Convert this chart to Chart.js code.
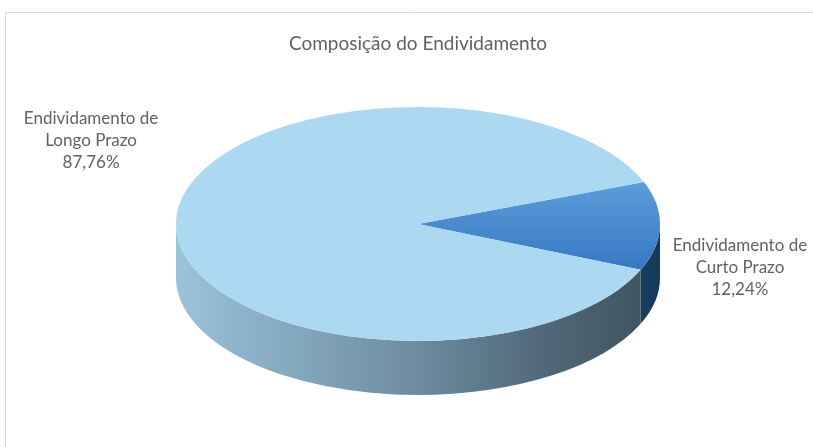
<!DOCTYPE html>
<html>
<head>
<meta charset="utf-8">
<script src="https://cdn.jsdelivr.net/npm/chart.js@4/dist/chart.umd.min.js"></script>
<style>
  html, body { margin: 0; padding: 0; background: #ffffff; }
  canvas { display: block; }
</style>
</head>
<body>
<canvas id="c" width="813" height="447"></canvas>
<script>
// ---- data ----
const categories = ['Endividamento de Curto Prazo', 'Endividamento de Longo Prazo'];
const labelLines = [['Endividamento de', 'Curto Prazo'], ['Endividamento de', 'Longo Prazo']];
const values = [12.24, 87.76];
const percentLabels = ['12,24%', '87,76%'];
const chartTitle = 'Composição do Endividamento';

// ---- styling ----
const TEXT_COLOR = '#626262';
const FONT = 'Lato, "Open Sans", sans-serif';
const PIE_RADIUS = 117;        // vertical radius of the ellipse
const X_STRETCH = 242 / 117;   // ellipse horizontal / vertical radius
const DEPTH = 54;              // height of the 3D side
const labelOffsets = [[80, 41], [-85, -81]];

function stretch(ctx, cx, cy) {
  ctx.translate(cx, cy);
  ctx.scale(X_STRETCH, 1);
  ctx.translate(-cx, -cy);
}

const pie3d = {
  id: 'pie3d',
  beforeDraw(chart) {
    const ctx = chart.ctx;
    ctx.save();
    ctx.fillStyle = '#ffffff';
    ctx.fillRect(0, 0, chart.width, chart.height);
    ctx.strokeStyle = '#dcdcdc';
    ctx.lineWidth = 1;
    ctx.beginPath();
    ctx.moveTo(5.5, chart.height);
    ctx.lineTo(5.5, 12.5);
    ctx.lineTo(chart.width, 12.5);
    ctx.stroke();
    ctx.restore();
  },
  beforeDatasetsDraw(chart) {
    const ctx = chart.ctx;
    const meta = chart.getDatasetMeta(0);
    const e0 = meta.data[0];
    const cx = e0.x, cy = e0.y, r = e0.outerRadius;
    ctx.save();
    stretch(ctx, cx, cy);
    meta.data.forEach((el, i) => {
      for (const k of [-2 * Math.PI, 0, 2 * Math.PI]) {
        const a0 = Math.max(el.startAngle + k, 0);
        const a1 = Math.min(el.endAngle + k, Math.PI);
        if (a1 <= a0) continue;
        const g = ctx.createLinearGradient(cx - r, 0, cx + r, 0);
        if (i === 0) {
          g.addColorStop(0, '#2a5a88');
          g.addColorStop(0.8, '#1f4a72');
          g.addColorStop(1, '#163a5a');
        } else {
          g.addColorStop(0, '#9cc3db');
          g.addColorStop(0.12, '#8fb5cc');
          g.addColorStop(0.5, '#6d8ca0');
          g.addColorStop(0.75, '#51697a');
          g.addColorStop(1, '#3e525e');
        }
        ctx.beginPath();
        ctx.arc(cx, cy, r, a0, a1);
        ctx.arc(cx, cy + DEPTH, r, a1, a0, true);
        ctx.closePath();
        ctx.fillStyle = g;
        ctx.fill();
      }
    });
    // keep the stretch active while the library draws the slices
  },
  afterDatasetsDraw(chart) {
    chart.ctx.restore();
  },
  afterDraw(chart) {
    const ctx = chart.ctx;
    const meta = chart.getDatasetMeta(0);
    ctx.save();
    ctx.fillStyle = TEXT_COLOR;
    ctx.font = '17px ' + FONT;
    ctx.textAlign = 'center';
    ctx.textBaseline = 'middle';
    meta.data.forEach((el, i) => {
      const mid = (el.startAngle + el.endAngle) / 2;
      const ax = el.x + Math.cos(mid) * el.outerRadius * X_STRETCH;
      const ay = el.y + Math.sin(mid) * el.outerRadius;
      const lx = ax + labelOffsets[i][0];
      const ly = ay + labelOffsets[i][1];
      const lines = labelLines[i].concat([percentLabels[i]]);
      lines.forEach((t, j) => {
        ctx.fillText(t, lx, ly + (j - 1) * 22);
      });
    });
    ctx.restore();
  }
};

new Chart(document.getElementById('c'), {
  type: 'pie',
  data: {
    labels: categories,
    datasets: [{
      data: values,
      borderWidth: 0,
      clip: false,
      radius: PIE_RADIUS,
      backgroundColor: (c) => {
        const area = c.chart.chartArea;
        if (!area) return c.dataIndex === 0 ? '#4a8ed5' : '#acd8f2';
        if (c.dataIndex === 0) {
          const cy = (area.top + area.bottom) / 2;
          const g = c.chart.ctx.createLinearGradient(0, cy - 45, 0, cy + 45);
          g.addColorStop(0, '#5c9fdc');
          g.addColorStop(1, '#3778c0');
          return g;
        }
        return '#acd8f2';
      }
    }]
  },
  options: {
    responsive: false,
    animation: false,
    rotation: 69,
    layout: { padding: { left: 23, right: 0, top: 0, bottom: 106 } },
    plugins: {
      legend: { display: false },
      tooltip: { enabled: false },
      title: {
        display: true,
        text: chartTitle,
        color: TEXT_COLOR,
        font: { family: FONT, size: 19, weight: 'normal' },
        padding: { top: 32, bottom: 52.2 }
      }
    }
  },
  plugins: [pie3d]
});
</script>
</body>
</html>
